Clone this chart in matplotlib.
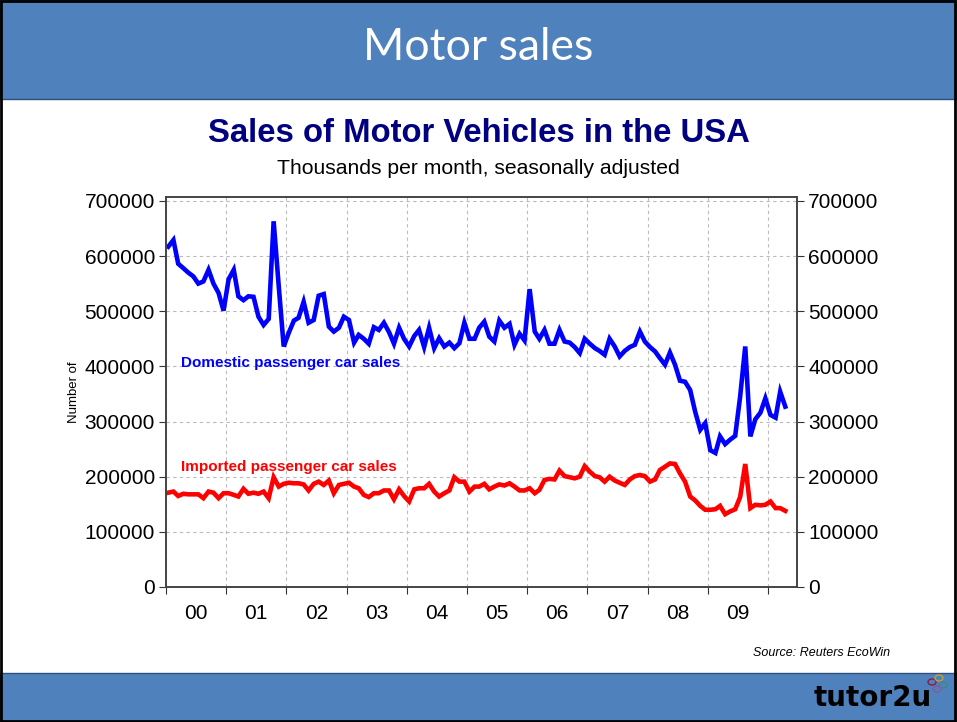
import pandas as pd
import matplotlib
matplotlib.use('Agg')
import matplotlib.pyplot as plt
import matplotlib.dates as mdates
from matplotlib.patches import Rectangle, Circle

# === Data (thousands, monthly from Jan 2000) ===
domestic = [617, 629, 586, 578, 570, 563, 550, 554, 575, 550, 533, 501,
            558, 575, 527, 520, 527, 526, 490, 475, 486, 663, 545, 436,
            461, 483, 488, 517, 479, 484, 528, 531, 472, 463, 470, 490,
            484, 443, 457, 450, 441, 471, 466, 479, 462, 441, 470, 450,
            436, 455, 466, 435, 470, 433, 451, 436, 443, 433, 442, 479,
            450, 450, 470, 481, 454, 445, 483, 470, 477, 439, 459, 447,
            540, 463, 450, 466, 441, 441, 466, 445, 443, 435, 424, 450,
            441, 433, 428, 421, 450, 436, 418, 428, 435, 439, 463, 445,
            435, 427, 415, 403, 425, 403, 374, 372, 357, 318, 285, 297,
            248, 243, 273, 259, 267, 274, 345, 436, 273, 304, 316, 342,
            312, 307, 354, 327]
imported = [171, 173, 165, 169, 168, 168, 168, 161, 173, 171, 161, 170,
            170, 167, 164, 178, 169, 171, 169, 173, 161, 199, 182, 187,
            189, 188, 188, 186, 175, 187, 191, 185, 193, 170, 185, 187,
            189, 182, 179, 167, 163, 170, 170, 175, 175, 159, 177, 165,
            155, 177, 179, 179, 187, 173, 164, 170, 175, 199, 191, 191,
            173, 182, 182, 187, 177, 182, 186, 184, 188, 182, 175, 175,
            179, 170, 176, 194, 196, 195, 211, 201, 199, 197, 200, 219,
            209, 201, 199, 191, 200, 193, 189, 185, 195, 201, 203, 201,
            191, 195, 212, 218, 224, 223, 206, 191, 164, 157, 147, 140,
            140, 141, 147, 132, 137, 141, 163, 223, 143, 149, 148, 149,
            155, 143, 143, 138]
year_labels = ['00', '01', '02', '03', '04', '05', '06', '07', '08', '09']
y_ticks = [0, 100000, 200000, 300000, 400000, 500000, 600000, 700000]

BLUE_BAR = '#4F81BD'

dates = pd.date_range('2000-01-01', periods=len(domestic), freq='MS') + pd.Timedelta(days=14)
dom_vals = [v * 1000 for v in domestic]
imp_vals = [v * 1000 for v in imported]

fig = plt.figure(figsize=(9.57, 7.22), dpi=100)
fig.patch.set_facecolor('white')

# === Slide decoration: header and footer bars ===
fig.patches.append(Rectangle((0, 1 - 99 / 722), 1, 99 / 722, transform=fig.transFigure,
                             facecolor=BLUE_BAR, edgecolor='#2F4F7F', linewidth=1, zorder=0))
fig.patches.append(Rectangle((0, 0), 1, 49 / 722, transform=fig.transFigure,
                             facecolor=BLUE_BAR, edgecolor='#2F4F7F', linewidth=1, zorder=0))
fig.patches.append(Rectangle((0.001, 0.002), 0.997, 0.996, transform=fig.transFigure,
                             facecolor='none', edgecolor='black', linewidth=2, zorder=5))

fig.text(0.5, 1 - 47 / 722, 'Motor sales', color='white', fontsize=32,
         family='Lato', ha='center', va='center')
fig.text(0.5, 1 - 134 / 722, 'Sales of Motor Vehicles in the USA', color='#000080',
         fontsize=23.7, fontweight='bold', family='Liberation Sans', ha='center', va='center')
fig.text(0.5, 1 - 169 / 722, 'Thousands per month, seasonally adjusted', color='black',
         fontsize=15.2, family='Liberation Sans', ha='center', va='center')
fig.text(890 / 957, 1 - 653 / 722, 'Source: Reuters EcoWin', fontsize=9, style='italic',
         family='Liberation Sans', ha='right', va='center')
fig.text(873 / 957, 1 - 698 / 722, 'tutor2u', fontsize=20, fontweight='heavy',
         family='DejaVu Sans', ha='center', va='center', color='black')
# little flower mark next to the logo
for dx, dy, c in [(0, 0, '#8B1A4A'), (7, -4, '#C0A030'), (11, 3, '#3A8A8A'), (5, 7, '#8A5A9A')]:
    fig.patches.append(Circle(((932 + dx) / 957, 1 - (682 + dy) / 722), 4 / 957,
                              transform=fig.transFigure, facecolor='none', edgecolor=c, linewidth=1))

# === Main chart ===
ax = fig.add_axes([166 / 957, 1 - 587 / 722, (797 - 166) / 957, 390 / 722])
ax.plot(dates, dom_vals, color='#0000FF', linewidth=3.3, solid_joinstyle='miter')
ax.plot(dates, imp_vals, color='#FF0000', linewidth=3.3, solid_joinstyle='miter')

ax.set_ylim(0, 707000)
ax.set_xlim(pd.Timestamp('2000-01-01'), pd.Timestamp('2010-06-25'))
ax.set_yticks(y_ticks)
ax.set_yticklabels([str(t) for t in y_ticks])

ax.xaxis.set_major_locator(mdates.YearLocator())
ax.xaxis.set_major_formatter(plt.NullFormatter())
mid_years = [pd.Timestamp(f'{2000 + i}-07-01') for i in range(len(year_labels))]
ax.set_xticks(mid_years, minor=True)
ax.set_xticklabels(year_labels, minor=True)
ax.tick_params(axis='x', which='minor', length=0, pad=12, labelsize=15)
ax.tick_params(axis='x', which='major', length=5, direction='out', color='#333333')
ax.tick_params(axis='y', length=5, direction='out', labelsize=15, pad=3, color='#333333')

ax.grid(True, which='major', linestyle=(0, (3, 3)), color='#BBBBBB', linewidth=0.8)
for s in ax.spines.values():
    s.set_color('#444444')
    s.set_linewidth(1.2)

ax2 = ax.twinx()
ax2.set_ylim(ax.get_ylim())
ax2.set_yticks(y_ticks)
ax2.set_yticklabels([str(t) for t in y_ticks])
ax2.tick_params(axis='y', length=5, direction='out', labelsize=15, pad=3, color='#333333')
for s in ax2.spines.values():
    s.set_color('#444444')
    s.set_linewidth(1.2)

for lab in ax.get_xticklabels(minor=True) + ax.get_yticklabels() + ax2.get_yticklabels():
    lab.set_family('Liberation Sans')

ax.set_ylabel('Number of', fontsize=9.5, family='Liberation Sans')
ax.yaxis.set_label_coords(-0.137, 0.5)

ax.text(pd.Timestamp('2000-04-01'), 406000, 'Domestic passenger car sales', color='#0000FF',
        fontsize=11, fontweight='bold', family='Liberation Sans', va='center')
ax.text(pd.Timestamp('2000-04-01'), 218000, 'Imported passenger car sales', color='#FF0000',
        fontsize=11, fontweight='bold', family='Liberation Sans', va='center')

fig.savefig('out.png', dpi=100)
